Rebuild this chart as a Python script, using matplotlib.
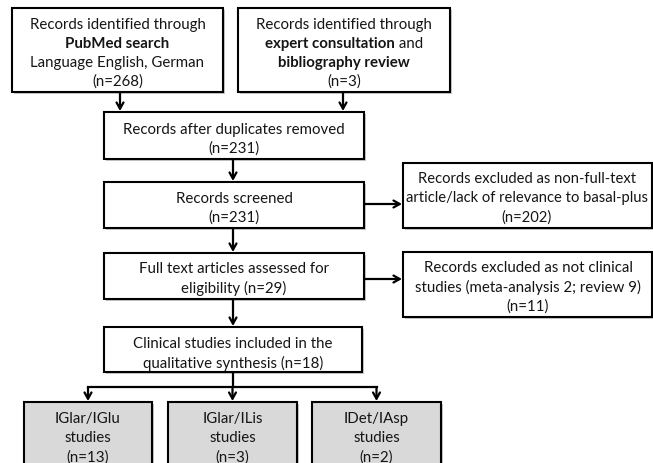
import matplotlib
matplotlib.use('Agg')
import matplotlib.pyplot as plt
from matplotlib.patches import Rectangle

plt.rcParams['font.family'] = ['Lato', 'DejaVu Sans']

# numbers of records at each stage
pubmed_n = 268
expert_n = 3
after_dup_n = 231
screened_n = 231
excluded_screen_n = 202
fulltext_n = 29
excluded_ft_n = 11
included_n = 18
subgroup_names = ['IGlar/IGlu', 'IGlar/ILis', 'IDet/IAsp']
subgroup_n = [13, 3, 2]

W, H = 653, 464
fig = plt.figure(figsize=(W / 100, H / 100), dpi=100)
ax = fig.add_axes([0, 0, 1, 1])
ax.set_xlim(0, W)
ax.set_ylim(H, 0)
ax.axis('off')

FS = 10.8
LH = 19.0
DY = 1.5  # small nudge so text sits like the original
TXT = '#151515'
renderer = fig.canvas.get_renderer()


def box(x0, y0, x1, y1, fill='white'):
    ax.add_patch(Rectangle((x0 + 2, y0 + 2), x1 - x0, y1 - y0, facecolor='#c8c8c8',
                           edgecolor='none', zorder=1))
    ax.add_patch(Rectangle((x0, y0), x1 - x0, y1 - y0, facecolor=fill,
                           edgecolor='black', lw=1.5, zorder=2))


def rich_line(cx, cy, segs, fs=FS):
    # segs: list of (text, weight); centred on cx
    texts = []
    widths = []
    for s, w in segs:
        t = ax.text(0, cy + DY, s, fontsize=fs, fontweight=w, ha='left', va='center',
                    color=TXT, zorder=3)
        bb = t.get_window_extent(renderer)
        texts.append(t)
        widths.append(bb.width)
    x = cx - sum(widths) / 2
    for t, wd in zip(texts, widths):
        t.set_x(x)
        x += wd


def lines(cx, cy, rows, fs=FS):
    # rows: list of strings or list of segment lists, centred vertically on cy
    n = len(rows)
    for i, r in enumerate(rows):
        y = cy + (i - (n - 1) / 2) * LH
        if isinstance(r, str):
            r = [(r, 'normal')]
        rich_line(cx, y, r, fs)


def arrow(x0, y0, x1, y1):
    ax.annotate('', xy=(x1, y1), xytext=(x0, y0),
                arrowprops=dict(arrowstyle='->,head_length=0.45,head_width=0.25',
                                lw=1.6, color='black', shrinkA=0, shrinkB=0),
                zorder=4)


# top row
box(12, 9, 223, 93)
lines(117.5, 52, ['Records identified through',
                  [('PubMed search', 'bold')],
                  'Language English, German',
                  f'(n={pubmed_n})'])
box(238, 9, 450, 93)
lines(344, 52, ['Records identified through',
                [('expert consultation', 'bold'), (' and', 'normal')],
                [('bibliography review', 'bold')],
                f'(n={expert_n})'])
arrow(120, 93, 120, 112)
arrow(343, 93, 343, 112)

# main column
box(104, 113, 364, 160)
lines(234, 138, ['Records after duplicates removed', f'(n={after_dup_n})'])
arrow(233, 160, 233, 182)

box(104, 183, 364, 229)
lines(234, 207, ['Records screened', f'(n={screened_n})'])
arrow(233, 229, 233, 253)

box(104, 254, 364, 300)
lines(234, 277, ['Full text articles assessed for', f'eligibility (n={fulltext_n})'])
arrow(233, 300, 233, 327)

box(104, 328, 362, 373)
lines(233, 352, ['Clinical studies included in the',
                 f'qualitative synthesis (n={included_n})'])

# exclusions
box(403, 164, 652, 229)
lines(527, 197, ['Records excluded as non-full-text',
                 'article/lack of relevance to basal-plus',
                 f'(n={excluded_screen_n})'], fs=10.6)
arrow(364, 205, 402, 205)

box(403, 253, 652, 318)
lines(528, 286, ['Records excluded as not clinical',
                 'studies (meta-analysis 2; review 9)',
                 f'(n={excluded_ft_n})'])
arrow(364, 280, 402, 280)

# split into subgroups
sub_x = [(24, 152), (168, 297), (312, 441)]
ax.plot([233, 233], [373, 388], color='black', lw=1.6, solid_capstyle='butt', zorder=4)
centres = [(a + b) / 2 for a, b in sub_x]
ax.plot([centres[0], centres[-1]], [388, 388], color='black', lw=1.6,
        solid_capstyle='projecting', zorder=4)
for (a, b), name, n in zip(sub_x, subgroup_names, subgroup_n):
    c = (a + b) / 2
    box(a, 403, b, 475, fill='#d9d9d9')
    arrow(c, 388, c, 402)
    lines(c, 437, [name, 'studies', f'(n={n})'])

fig.savefig('out.png', dpi=100)
